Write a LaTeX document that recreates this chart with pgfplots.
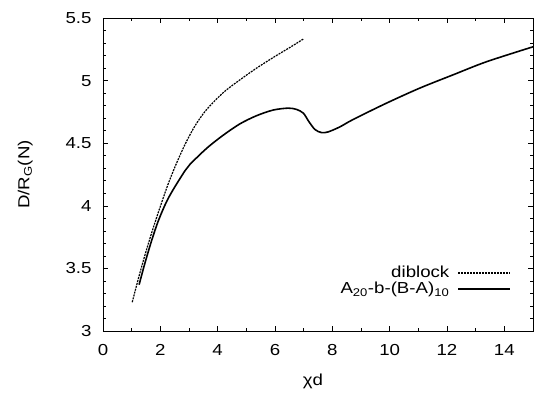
\documentclass[border=0pt]{standalone}
\usepackage{fontspec}
\setmainfont[FakeStretch=1.17]{Liberation Sans}
\usepackage{pgfplots}
\pgfplotsset{compat=1.18}
\begin{document}
\begin{tikzpicture}
\useasboundingbox (-103bp,-62bp) rectangle (431bp,331bp);
\begin{axis}[
  scale only axis,
  width=430bp, height=313bp,
  xmin=0, xmax=15, ymin=3, ymax=5.5,
  xtick={0,2,...,14}, ytick={3,3.5,4,4.5,5,5.5},
  minor x tick num=1, minor y tick num=4,
  tick align=inside,
  major tick length=5bp, minor tick length=3bp,
  tick style={black, line width=0.6pt},
  axis line style={line width=0.8pt},
  font=\fontsize{16}{19}\selectfont,
  /pgf/number format/assume math mode=true,
  xticklabel style={yshift=-10bp},
  yticklabel style={xshift=-8bp},
  xlabel={χd},
  ylabel={D/R\textsubscript{G}(N)},
  xlabel style={at={(axis description cs:0.488,-0.16)}, anchor=center},
  ylabel style={at={(axis description cs:-0.181,0.5)}, anchor=center, rotate=0},
  legend style={draw=none, fill=none, at={(axis description cs:0.956,0.16)}, anchor=east, font=\fontsize{16}{19}\selectfont, row sep=-1bp, column sep=6bp},
  legend cell align=right,
  legend plot pos=right,
  legend image code/.code={\draw[#1] (0cm,0cm) -- (52bp,0cm);},
]
\addplot[black, line width=1.2pt, dash pattern=on 2pt off 1pt, smooth] coordinates {
(1.02,3.23) (1.25,3.432) (1.5,3.635) (1.75,3.822) (2.0,3.995) (2.25,4.16) (2.5,4.305) (2.84,4.48) (3.2,4.635) (3.6,4.765) (4.2,4.905) (4.8,5.01) (5.36,5.10) (5.94,5.185) (6.52,5.265) (7.01,5.335)
};
\addlegendentry{diblock}
\addplot[black, line width=1.6pt, smooth] coordinates {
(1.26,3.37) (1.46,3.54) (1.70,3.725) (1.93,3.88) (2.20,4.025) (2.45,4.13) (2.86,4.28) (3.03,4.33) (3.62,4.46) (4.20,4.565) (4.78,4.655) (5.36,4.72) (5.94,4.765) (6.46,4.78) (6.75,4.77) (6.99,4.74) (7.16,4.68) (7.39,4.61) (7.62,4.585) (7.85,4.59) (8.26,4.63) (8.73,4.69) (9.89,4.82) (11.05,4.94) (12.2,5.045) (13.37,5.15) (15,5.27)
};
\addlegendentry{A\textsubscript{20}-b-(B-A)\textsubscript{10}}
\end{axis}
\end{tikzpicture}
\end{document}
